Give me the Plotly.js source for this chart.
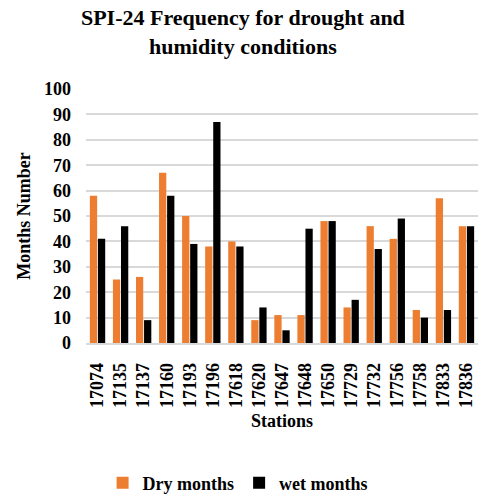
<!DOCTYPE html>
<html><head><meta charset="utf-8">
<script src="https://cdn.plot.ly/plotly-3.0.1.min.js"></script>
<style>html,body{margin:0;padding:0;background:#fff}#c{width:481px;height:494px}</style>
</head><body><div id="c"></div>
<script>
const stations = ["17074","17135","17137","17160","17193","17196","17618","17620","17647","17648","17650","17729","17732","17756","17758","17833","17836"];
const dryMonths = [58,25,26,67,50,38,40,9,11,11,48,14,46,41,13,57,46];
const wetMonths = [41,46,9,58,39,87,38,14,5,45,48,17,37,49,10,13,46];
const yTicks = [0,10,20,30,40,50,60,70,80,90,100];

const F = "Liberation Serif, Times New Roman, serif";
const traces = [
  {type:"bar", name:"<b>Dry months</b>", x:stations, y:dryMonths, marker:{color:"#ED7D31"}},
  {type:"bar", name:"<b>wet months</b>", x:stations, y:wetMonths, marker:{color:"#000000"}}
];
const layout = {
  width:481, height:494,
  margin:{l:86, r:3, t:89, b:151},
  paper_bgcolor:"#fff", plot_bgcolor:"#fff",
  font:{family:F, color:"#000", size:18},
  title:{text:"<b>SPI-24 Frequency for drought and<br>humidity conditions</b>", x:0.505, xanchor:"center", yref:"container", y:0.949, yanchor:"top", font:{family:F, size:22, color:"#000"}},
  barmode:"group", bargap:0.3, bargroupgap:0.1,
  xaxis:{type:"category", automargin:false, tickangle:-90, tickfont:{family:F, size:18}, ticklabelstandoff:11,
    title:{text:"<b>Stations</b>", font:{family:F, size:18}, standoff:7},
    showline:true, linecolor:"#d9d9d9", linewidth:1.5, ticks:"", tickprefix:"<b>", ticksuffix:"</b>"},
  yaxis:{range:[0,100], automargin:false, tickvals:yTicks, ticktext:yTicks.map(v=>"<b>"+v+"</b>"), tickfont:{family:F, size:18},
    ticklabelstandoff:14,
    showgrid:true, gridcolor:"#d9d9d9", gridwidth:1.5, zeroline:false,
    title:{text:"<b>Months Number</b>", font:{family:F, size:18}, standoff:8}},
  showlegend:true,
  legend:{orientation:"h", xref:"container", yref:"container", x:0.495, xanchor:"center", y:0.0223, yanchor:"middle", font:{family:F, size:18}, itemwidth:30, traceorder:"normal"}
};
Plotly.newPlot("c", traces, layout, {displayModeBar:false});
</script>
</body></html>
